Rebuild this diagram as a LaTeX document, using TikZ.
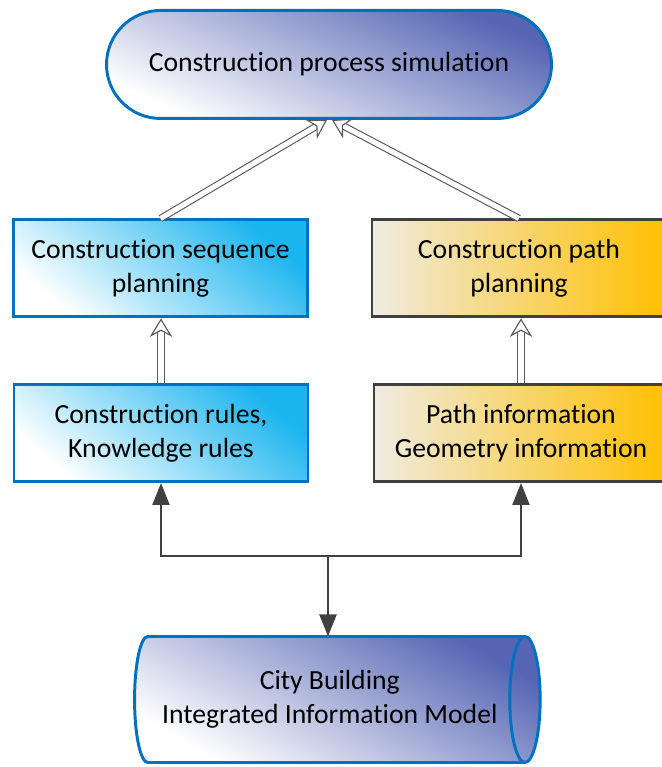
\documentclass[tikz,border=0pt]{standalone}
\usepackage{fontspec}
\setmainfont{Carlito}[Ligatures=NoCommon]
\usepackage{xcolor}
\usepackage{tikz}
\usetikzlibrary{arrows.meta,backgrounds}
\definecolor{cpblue}{HTML}{0070C0}
\definecolor{cpnavy}{HTML}{5666B4}
\definecolor{cpcyan}{HTML}{1AB4EE}
\definecolor{cpgold}{HTML}{FFC000}
\definecolor{cpsand}{HTML}{EFEBE1}
\definecolor{cpgrey}{HTML}{404040}
\tikzset{
  cptext/.style={font=\fontsize{19.7}{24.2}\selectfont, align=center, inner sep=0pt},
  cpterm/.style={cptext, draw=cpblue, line width=2.1pt, rounded corners=1.35cm, minimum width=11.125cm, minimum height=2.7cm, top color=cpnavy, bottom color=white, shading angle=-25},
  cpbluebox/.style={cptext, draw=cpblue, line width=2.1pt, minimum width=7.35cm, minimum height=2.425cm, top color=cpcyan, bottom color=white, shading angle=-40},
  cpgoldbox/.style={cptext, draw=cpgrey, line width=2.1pt, minimum width=7.35cm, minimum height=2.425cm, left color=cpsand, right color=cpgold},
  cpcyl/.style={cptext, outer sep=0pt, minimum width=9.76cm, minimum height=3.15cm},
  cpcylbody/.style={draw=cpblue, line width=2.1pt, top color=cpnavy, bottom color=white, shading angle=-30},
  cphollow/.style={draw=black!65, line width=0.8pt, double=white, double distance=3.6pt, -{Stealth[length=0.46cm, width=0.56cm, inset=0.15cm, fill=white, line width=0.8pt]}},
  cpdark/.style={draw=cpgrey, line width=1.9pt, -{Triangle[length=0.55cm, width=0.42cm]}},
}
\begin{document}
\begin{tikzpicture}
\useasboundingbox (0,0) rectangle (16.550,19.175);
\node[cpterm] (sim) at (8.225,17.563) {Construction process simulation};
\node[cpbluebox] (seq) at (4.013,12.463) {Construction sequence\\planning};
\node[cpgoldbox] (route) at (12.975,12.463) {Construction path\\planning};
\node[cpbluebox] (rules) at (4.025,8.350) {Construction rules,\\Knowledge rules};
\node[cpgoldbox] (info) at (13.025,8.350) {Path information\\Geometry information};
\node[cpcyl] (model) at (8.244,1.688) {City Building\\Integrated Information Model};
\begin{scope}[on background layer]
\draw[cpcylbody] ([xshift=0.33cm]model.north west) -- (model.north east)
  arc[start angle=90, end angle=-90, x radius=0.38cm, y radius=1.575cm]
  -- ([xshift=0.33cm]model.south west)
  arc[start angle=270, end angle=90, x radius=0.33cm, y radius=1.575cm] -- cycle;
\draw[draw=cpblue, line width=2.1pt] (model.north east)
  arc[start angle=90, end angle=270, x radius=0.38cm, y radius=1.575cm];
\end{scope}
% hollow arrows
\draw[cphollow] (seq.north) -- ([xshift=-0.05cm]sim.south);
\draw[cphollow] (route.north) -- ([xshift=0.075cm]sim.south);
\draw[cphollow] (rules.north) -- (rules.north |- seq.south);
\draw[cphollow] (info.north) -- (info.north |- route.south);
% data links
\coordinate (bus) at (8.200,5.275);
\draw[cpdark] (bus) -| (rules.south);
\draw[cpdark] (bus) -| (info.south);
\draw[cpdark] (bus) -- (bus |- model.north);
\end{tikzpicture}
\end{document}
